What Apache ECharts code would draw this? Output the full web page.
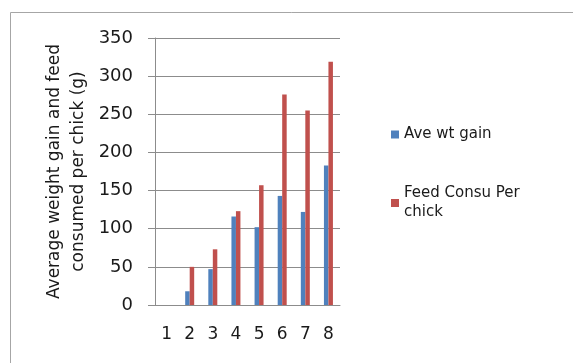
<!DOCTYPE html>
<html>
<head>
<meta charset="utf-8">
<script src="https://cdn.jsdelivr.net/npm/echarts@6/dist/echarts.min.js"></script>
<style>
  html, body { margin: 0; padding: 0; background: #fff; }
  #chart { width: 573px; height: 363px; }
</style>
</head>
<body>
<div id="chart"></div>
<script>
// Weekly figures per chick (g)
const weeks = ['1', '2', '3', '4', '5', '6', '7', '8'];
const aveWtGain = [0, 18, 47, 116, 102, 143, 122, 183];
const feedConsuPerChick = [0, 50, 73, 123, 157, 276, 255, 319];
const seriesNames = ['Ave wt gain', 'Feed Consu Per chick'];
const yTicks = { min: 0, max: 350, step: 50 };

const textFont = '"DejaVu Sans", "Liberation Sans", sans-serif';
const lineGray = '#8c8c8c';

const chart = echarts.init(document.getElementById('chart'), null, { renderer: 'canvas' });

chart.setOption({
  backgroundColor: '#ffffff',
  animation: false,
  color: ['#4F81BD', '#C0504D'],
  grid: { left: 155, right: 233, top: 38, bottom: 58, containLabel: false },
  legend: {
    orient: 'vertical',
    left: 386,
    top: 120,
    itemWidth: 8,
    itemHeight: 8,
    itemGap: 40,
    icon: 'rect',
    textStyle: { fontFamily: textFont, fontSize: 15, color: '#1a1a1a', lineHeight: 19 },
    formatter: function (name) {
      return name === 'Feed Consu Per chick' ? 'Feed Consu Per\nchick' : name;
    },
    data: seriesNames
  },
  xAxis: {
    type: 'category',
    data: weeks,
    axisLine: { lineStyle: { color: lineGray, width: 1 } },
    axisTick: { show: false },
    axisLabel: { fontFamily: textFont, fontSize: 17, color: '#1a1a1a', margin: 21 }
  },
  yAxis: {
    type: 'value',
    min: yTicks.min,
    max: yTicks.max,
    interval: yTicks.step,
    name: 'Average weight gain and feed\nconsumed per chick (g)',
    nameLocation: 'middle',
    nameRotate: 90,
    nameGap: 64,
    nameTextStyle: { fontFamily: textFont, fontSize: 17, color: '#1a1a1a', lineHeight: 24 },
    axisLine: { show: true, lineStyle: { color: lineGray, width: 1 } },
    axisTick: { show: true, length: 7, lineStyle: { color: lineGray } },
    splitLine: { lineStyle: { color: lineGray, width: 1 } },
    axisLabel: { fontFamily: textFont, fontSize: 18, color: '#1a1a1a', margin: 22 }
  },
  graphic: [
    {
      type: 'polyline',
      silent: true,
      shape: { points: [[10.5, 363], [10.5, 12.5], [573, 12.5]] },
      style: { stroke: '#a6a6a6', lineWidth: 1, fill: null }
    }
  ],
  series: [
    {
      name: seriesNames[0],
      type: 'bar',
      data: aveWtGain,
      barWidth: 4.5,
      barGap: '0%'
    },
    {
      name: seriesNames[1],
      type: 'bar',
      data: feedConsuPerChick,
      barWidth: 4.5,
      barGap: '0%'
    }
  ]
});
</script>
</body>
</html>
